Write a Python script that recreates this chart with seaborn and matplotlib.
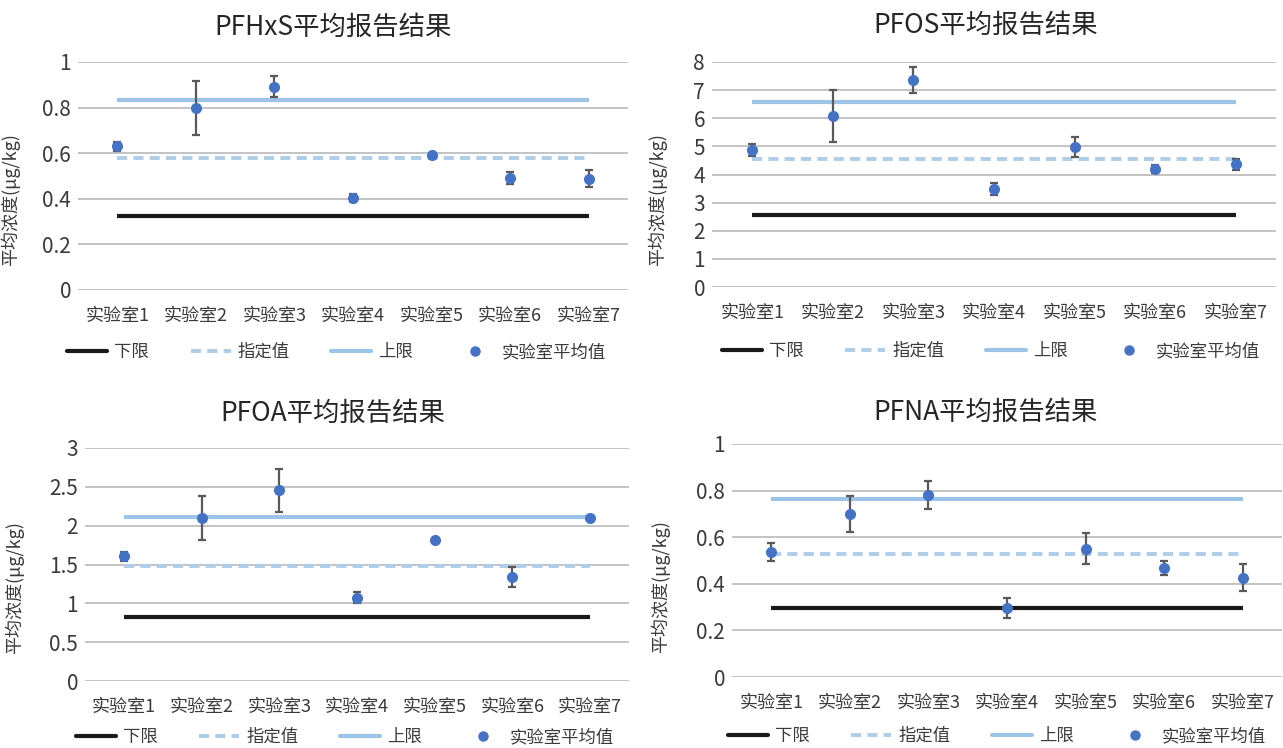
import numpy as np
import matplotlib
matplotlib.use("Agg")
import matplotlib.pyplot as plt
from matplotlib.lines import Line2D
import seaborn as sns

sns.set_theme(style="white")
plt.rcParams["font.family"] = ["Noto Sans CJK SC", "DejaVu Sans"]
plt.rcParams["axes.unicode_minus"] = False

labs = ["实验室1", "实验室2", "实验室3", "实验室4", "实验室5", "实验室6", "实验室7"]

# PFHxS
pfhxs_mean = [0.631, 0.798, 0.892, 0.404, 0.592, 0.493, 0.489]
pfhxs_err = [0.020, 0.120, 0.045, 0.019, 0.006, 0.026, 0.038]
pfhxs_limits = [0.324, 0.580, 0.834]  # lower, assigned, upper

# PFOS
pfos_mean = [4.88, 6.08, 7.36, 3.48, 4.97, 4.19, 4.36]
pfos_err = [0.22, 0.92, 0.46, 0.22, 0.35, 0.15, 0.20]
pfos_limits = [2.56, 4.56, 6.58]

# PFOA
pfoa_mean = [1.605, 2.100, 2.455, 1.073, 1.815, 1.335, 2.094]
pfoa_err = [0.06, 0.28, 0.28, 0.07, 0.0, 0.13, 0.0]
pfoa_limits = [0.828, 1.476, 2.116]

# PFNA
pfna_mean = [0.537, 0.701, 0.781, 0.297, 0.550, 0.467, 0.427]
pfna_err = [0.039, 0.077, 0.060, 0.044, 0.067, 0.030, 0.058]
pfna_limits = [0.297, 0.529, 0.764]

titles = ["PFHxS平均报告结果", "PFOS平均报告结果", "PFOA平均报告结果", "PFNA平均报告结果"]
y_ticks = [
    [0, 0.2, 0.4, 0.6, 0.8, 1],
    [0, 1, 2, 3, 4, 5, 6, 7, 8],
    [0, 0.5, 1, 1.5, 2, 2.5, 3],
    [0, 0.2, 0.4, 0.6, 0.8, 1],
]
legend_names = ["下限", "指定值", "上限", "实验室平均值"]
ylabel = "平均浓度(μg/kg)"

W, H = 1283, 748
fig = plt.figure(figsize=(W / 100, H / 100), dpi=100)
fig.patch.set_facecolor("white")

# axes boxes in pixels: left, right, top, bottom
boxes = [(78, 628, 62, 290), (712, 1276, 62, 287), (85, 629, 448, 681), (732, 1282, 444, 677)]
title_pos = [(333, 27), (986, 25), (333, 413), (986, 412)]
ylabel_pos = [(-0.105, 0.395), (-0.080, 0.39), (-0.112, 0.40), (-0.113, 0.386)]
legend_x = [0.47, 0.495, 0.478, 0.482]
legend_drop = [62, 64, 56, 59]  # pixels from axes bottom to legend centre

C_LOW = "#1a1a1a"
C_ASSIGN = "#aecde9"
C_UP = "#9dc3e6"
C_PT = "#4472c4"
C_ERR = "#595959"
C_GRID = "#b3b3b3"
C_TXT = "#3a3a3a"

panels = [
    (pfhxs_mean, pfhxs_err, pfhxs_limits),
    (pfos_mean, pfos_err, pfos_limits),
    (pfoa_mean, pfoa_err, pfoa_limits),
    (pfna_mean, pfna_err, pfna_limits),
]

pos = np.arange(len(labs))

for i, (mean, err, limits) in enumerate(panels):
    l, r, t, b = boxes[i]
    ax = fig.add_axes([l / W, (H - b) / H, (r - l) / W, (b - t) / H])
    ticks = y_ticks[i]
    ax.set_xlim(-0.5, len(labs) - 0.5)
    ax.set_ylim(ticks[0], ticks[-1])
    ax.set_yticks(ticks)
    ax.set_yticklabels([f"{v:g}" for v in ticks], fontsize=15, color=C_TXT)
    ax.set_xticks(pos)
    ax.set_xticklabels(labs, fontsize=13, color=C_TXT)
    ax.tick_params(axis="x", length=0, pad=12)
    ax.tick_params(axis="y", length=0, pad=5)
    for s in ax.spines.values():
        s.set_visible(False)
    ax.yaxis.grid(True, color=C_GRID, linewidth=1.1)
    ax.set_axisbelow(True)

    lower, assigned, upper = limits
    ax.plot(pos, np.full(len(pos), lower), color=C_LOW, lw=3, solid_capstyle="butt", zorder=2)
    ax.plot(pos, np.full(len(pos), assigned), color=C_ASSIGN, lw=2.8,
            dashes=(2.6, 1.6), dash_capstyle="butt", zorder=2)
    ax.plot(pos, np.full(len(pos), upper), color=C_UP, lw=3, solid_capstyle="butt", zorder=2)

    ax.errorbar(pos, mean, yerr=err, fmt="none", ecolor=C_ERR, elinewidth=1.6,
                capsize=3, capthick=1.6, zorder=3, clip_on=False)
    sns.scatterplot(x=pos, y=mean, ax=ax, color=C_PT, s=64, edgecolor=C_PT,
                    linewidth=0, zorder=4, clip_on=False, legend=False)

    ax.set_ylabel(ylabel, fontsize=13, color=C_TXT)
    ax.yaxis.set_label_coords(*ylabel_pos[i])

    handles = [
        Line2D([], [], color=C_LOW, lw=3),
        Line2D([], [], color=C_ASSIGN, lw=2.8, dashes=(2.6, 1.6)),
        Line2D([], [], color=C_UP, lw=3),
        Line2D([], [], color=C_PT, lw=0, marker="o", markersize=6.5),
    ]
    leg = ax.legend(handles, legend_names, loc="center", ncol=4,
                    bbox_to_anchor=(legend_x[i], -legend_drop[i] / (b - t)), frameon=False,
                    fontsize=12.5, handlelength=2.3, handletextpad=0.4,
                    columnspacing=2.4, borderpad=0.1)
    for txt in leg.get_texts():
        txt.set_color(C_TXT)

    tx, ty = title_pos[i]
    fig.text(tx / W, 1 - ty / H, titles[i], ha="center", va="center",
             fontsize=19, color="#262626")

fig.savefig("out.png", dpi=100, facecolor="white")
